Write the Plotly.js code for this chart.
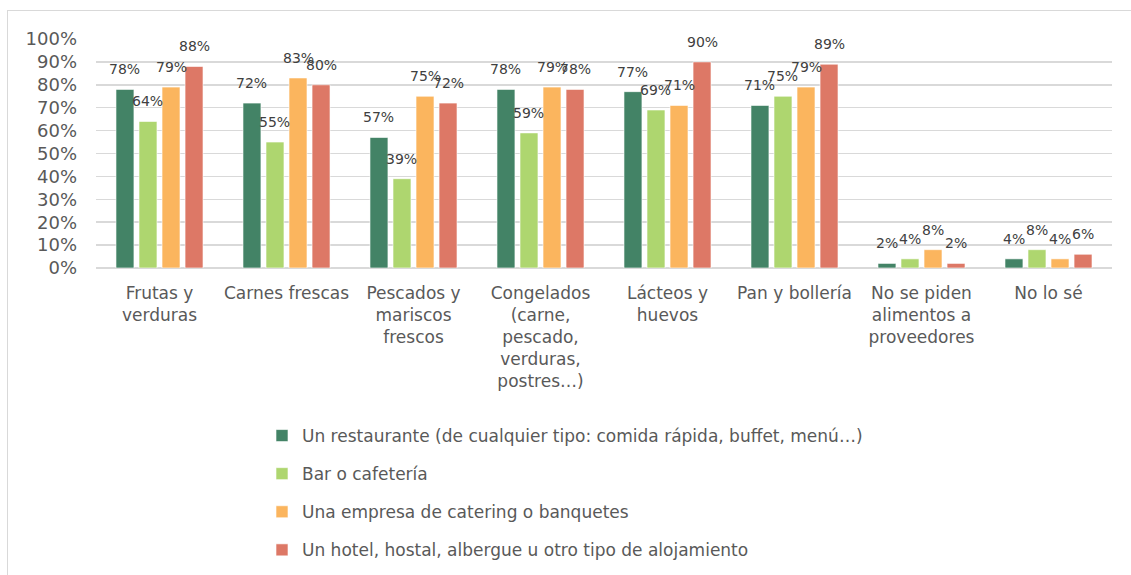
<!DOCTYPE html>
<html>
<head>
<meta charset="utf-8">
<script src="https://cdn.plot.ly/plotly-3.0.1.min.js"></script>
<style>
  html, body { margin: 0; padding: 0; background: #fff; }
  #wrap { position: relative; width: 1131px; height: 575px; overflow: hidden; }
  #chart { position: absolute; left: 0; top: 0; width: 1131px; height: 575px; }
  #frame { position: absolute; left: 7px; top: 10px; width: 1130px; height: 570px; border: 1px solid #d9d9d9; pointer-events: none; }
</style>
</head>
<body>
<div id="wrap"><div id="chart"></div><div id="frame"></div></div>
<script>
const categories = [
  "Frutas y<br>verduras",
  "Carnes frescas",
  "Pescados y<br>mariscos<br>frescos",
  "Congelados<br>(carne,<br>pescado,<br>verduras,<br>postres…)",
  "Lácteos y<br>huevos",
  "Pan y bollería",
  "No se piden<br>alimentos a<br>proveedores",
  "No lo sé"
];
const seriesNames = [
  "Un restaurante (de cualquier tipo: comida rápida, buffet, menú…)",
  "Bar o cafetería",
  "Una empresa de catering o banquetes",
  "Un hotel, hostal, albergue u otro tipo de alojamiento"
];
const restaurante = [78, 72, 57, 78, 77, 71, 2, 4];
const bar         = [64, 55, 39, 59, 69, 75, 4, 8];
const catering    = [79, 83, 75, 79, 71, 79, 8, 4];
const hotel       = [88, 80, 72, 78, 90, 89, 2, 6];
const yTicks = [0, 10, 20, 30, 40, 50, 60, 70, 80, 90, 100];

const seriesValues = [restaurante, bar, catering, hotel];
const colors = ["#438366", "#aed66f", "#fbb55e", "#dd7866"];
const font = "'DejaVu Sans', sans-serif";
const textColor = "#595959";

const W = 1131, H = 575;
const margin = {l: 96, r: 19, t: 39, b: 307};
const bargap = 0.275;
const plotW = W - margin.l - margin.r;
const plotH = H - margin.t - margin.b;
const slot = plotW / categories.length * (1 - bargap) / seriesValues.length;

const traces = seriesValues.map((vals, s) => ({
  type: "bar",
  name: seriesNames[s],
  x: categories,
  y: vals,
  marker: {color: colors[s], line: {color: "rgba(255,255,255,0.6)", width: 1}},
  legendgroup: "g" + s,
  hoverinfo: "skip"
}));

const annotations = [];
seriesValues.forEach((vals, s) => {
  vals.forEach((v, i) => {
    annotations.push({
      x: categories[i], y: v, xref: "x", yref: "y",
      text: v + "%", showarrow: false,
      xshift: (s - (seriesValues.length - 1) / 2) * slot,
      yshift: 20,
      font: {family: font, size: 14, color: "#404040"}
    });
  });
});

const layout = {
  width: W, height: H,
  margin: margin,
  paper_bgcolor: "rgba(0,0,0,0)",
  plot_bgcolor: "rgba(0,0,0,0)",
  barmode: "group",
  bargap: bargap,
  bargroupgap: 0.22,
  showlegend: true,
  legend: {
    xref: "paper", yref: "container",
    x: (262 - margin.l) / plotW, xanchor: "left",
    y: 1 - 418 / H, yanchor: "top",
    orientation: "v",
    font: {family: font, size: 17, color: textColor},
    tracegroupgap: 13,
    itemwidth: 30,
    bgcolor: "rgba(0,0,0,0)"
  },
  xaxis: {
    type: "category",
    automargin: false,
    tickfont: {family: font, size: 17, color: textColor},
    showline: false,
    ticks: "",
    ticklabelstandoff: 13,
    fixedrange: true
  },
  yaxis: {
    range: [0, 100],
    automargin: false,
    tickvals: yTicks,
    ticktext: yTicks.map(v => v + "%"),
    tickfont: {family: font, size: 18, color: textColor},
    showgrid: true,
    gridcolor: "#d9d9d9",
    gridwidth: 1.5,
    zeroline: true,
    zerolinecolor: "#d9d9d9",
    zerolinewidth: 1.5,
    showline: false,
    ticks: "",
    ticklabelstandoff: 18,
    fixedrange: true
  },
  annotations: annotations
};

Plotly.newPlot("chart", traces, layout, {displayModeBar: false, staticPlot: true});
</script>
</body>
</html>
